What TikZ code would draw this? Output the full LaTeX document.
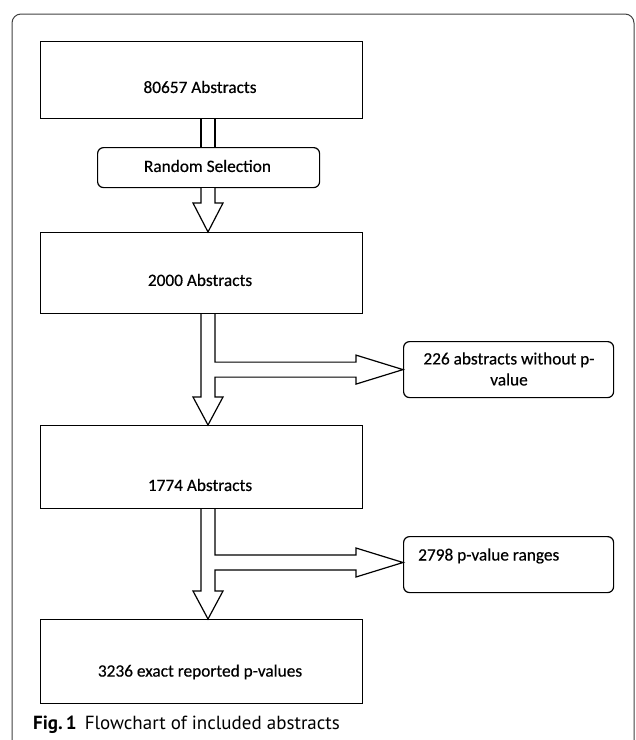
\documentclass[tikz,border=0pt]{standalone}
\usepackage{fontspec}
\newfontfamily\boxfont[FakeBold=0.4]{Carlito}
\newfontfamily\capfont{PT Sans}
\usetikzlibrary{calc}
\begin{document}
\begin{tikzpicture}[x=1pt,y=-1pt,
  box/.style={draw=black,line width=1.2pt,fill=white,inner sep=0pt,anchor=north west},
  rbox/.style={box,rounded corners=6pt},
  lbl/.style={font=\boxfont\fontsize{17.3}{21}\selectfont,inner sep=0pt,align=center},
  arr/.style={draw=black,line width=1.2pt,fill=white,line join=miter}]
\useasboundingbox (0,0) rectangle (636,740);
% outer frame
\begin{scope}
\clip (0,0) rectangle (636,740);
\draw[line width=1pt,black!75,rounded corners=9pt] (12,14) rectangle (634,770);
\end{scope}
\coordinate (ax) at (208,0);
% boxes
\node[box,minimum width=322pt,minimum height=77pt] (b1) at (40,41) {};
\node[rbox,minimum width=222pt,minimum height=40pt] (rs) at (97,147) {};
\node[box,minimum width=322pt,minimum height=81pt] (b2) at (40,232) {};
\node[rbox,minimum width=210pt,minimum height=56pt] (e1) at (403,341) {};
\node[box,minimum width=322pt,minimum height=83pt] (b3) at (40,425) {};
\node[rbox,minimum width=210pt,minimum height=56pt] (e2) at (403,536) {};
\node[box,minimum width=322pt,minimum height=84pt] (b4) at (40,619) {};
% labels
\node[lbl] (t1) at (200,87) {80657 Abstracts};
\node[lbl] (t2) at (207.5,166) {Random Selection};
\node[lbl] (t3) at (200,280) {2000 Abstracts};
\node[lbl] (t4) at (509,369) {226 abstracts without p-\\value};
\node[lbl] (t5) at (200,485) {1774 Abstracts};
\node[lbl,anchor=west] (t6) at (418,556) {2798 p-value ranges};
\node[lbl] (t7) at (200,672) {3236 exact reported p-values};
% arrow b1 -> rs (stem only)
\draw[line width=1.2pt] ([xshift=-7pt]ax |- b1.south) -- ([xshift=-7pt]ax |- rs.north);
\draw[line width=1.2pt] ([xshift=7pt]ax |- b1.south) -- ([xshift=7pt]ax |- rs.north);
% arrow rs -> b2
\draw[arr] ([xshift=-7pt]ax |- rs.south) -- ([xshift=-7pt,yshift=29pt]ax |- b2.north)
  -- ([xshift=-15pt,yshift=29pt]ax |- b2.north) -- (ax |- b2.north)
  -- ([xshift=15pt,yshift=29pt]ax |- b2.north) -- ([xshift=7pt,yshift=29pt]ax |- b2.north)
  -- ([xshift=7pt]ax |- rs.south);
% arrow b2 -> b3 with branch to e1
\draw[arr] ([xshift=-7pt]ax |- b2.south) -- ([xshift=-7pt,yshift=28pt]ax |- b3.north)
  -- ([xshift=-15pt,yshift=28pt]ax |- b3.north) -- (ax |- b3.north)
  -- ([xshift=15pt,yshift=28pt]ax |- b3.north) -- ([xshift=7pt,yshift=28pt]ax |- b3.north)
  -- ([xshift=7pt,yshift=-7.5pt]ax |- e1.west)
  -- ([xshift=-47pt,yshift=-7.5pt]e1.west) -- ([xshift=-47pt,yshift=-14.5pt]e1.west)
  -- (e1.west)
  -- ([xshift=-47pt,yshift=14.5pt]e1.west) -- ([xshift=-47pt,yshift=7.5pt]e1.west)
  -- ([xshift=7pt,yshift=7.5pt]ax |- e1.west)
  -- ([xshift=7pt]ax |- b2.south);
% arrow b3 -> b4 with branch to e2
\coordinate (e2tip) at ($(e2.north west)+(0,26.5)$);
\draw[arr] ([xshift=-7pt]ax |- b3.south) -- ([xshift=-7pt,yshift=28pt]ax |- b4.north)
  -- ([xshift=-15pt,yshift=28pt]ax |- b4.north) -- (ax |- b4.north)
  -- ([xshift=15pt,yshift=28pt]ax |- b4.north) -- ([xshift=7pt,yshift=28pt]ax |- b4.north)
  -- ([xshift=7pt,yshift=-7.5pt]ax |- e2tip)
  -- ([xshift=-47pt,yshift=-7.5pt]e2tip) -- ([xshift=-47pt,yshift=-14.5pt]e2tip)
  -- (e2tip)
  -- ([xshift=-47pt,yshift=14.5pt]e2tip) -- ([xshift=-47pt,yshift=7.5pt]e2tip)
  -- ([xshift=7pt,yshift=7.5pt]ax |- e2tip)
  -- ([xshift=7pt]ax |- b3.south);
% caption
\node[anchor=base west,inner sep=0pt,font=\capfont\fontsize{19}{22}\selectfont] (cap) at (33,729)
  {\textbf{Fig.\,1}\hspace{8pt}Flowchart of included abstracts};
\end{tikzpicture}
\end{document}
